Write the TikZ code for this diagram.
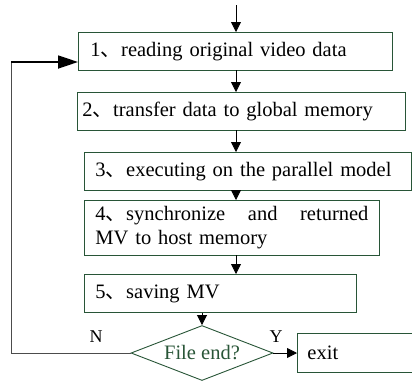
\documentclass[tikz,border=0pt]{standalone}
\usepackage{fontspec}
\setmainfont{Liberation Serif}
\newfontfamily\cjkfont{Noto Sans CJK SC}
\usetikzlibrary{arrows.meta,shapes.geometric}
\definecolor{boxgreen}{RGB}{40,85,55}
\newcommand{\dun}{{\cjkfont 、}}
\begin{document}
\begin{tikzpicture}[x=1pt,y=-1pt,
  stepbox/.style={draw=boxgreen,line width=0.9pt,anchor=north west,align=left,
    inner ysep=0pt,font=\fontsize{20.5}{24}\selectfont},
  flow/.style={-{Triangle[length=10pt,width=10pt]},line width=0.8pt},
  lbl/.style={font=\fontsize{18}{20}\selectfont,inner sep=0pt}]
\useasboundingbox (0,0) rectangle (412,381);
% process boxes
\node[stepbox,minimum width=314,minimum height=38,text width=290,inner xsep=12pt] (b1) at (78,32) {1\dun reading original video data};
\node[stepbox,minimum width=328,minimum height=38,text width=318,inner xsep=5pt] (b2) at (77,92) {2\dun transfer data to global memory};
\node[stepbox,minimum width=327,minimum height=38,text width=305,inner xsep=11pt] (b3) at (84,152) {3\dun executing on the parallel model};
\node[stepbox,minimum width=295,minimum height=55,text width=273,inner xsep=11pt] (b4) at (84,200)
  {4\dun synchronize\hfill and\hfill returned\\MV to host memory};
\node[stepbox,minimum width=272,minimum height=38,text width=250,inner xsep=11pt] (b5) at (84,274) {5\dun saving MV};
% decision
\node[diamond,draw=boxgreen,line width=0.9pt,text=boxgreen,shape aspect=2.58,
  minimum width=142,minimum height=55,inner sep=0pt,
  font=\fontsize{20.5}{24}\selectfont] (d) at (202,353) {File end?};
\node[stepbox,minimum width=116,minimum height=39,text width=96,inner xsep=10pt] (ex) at (297,333) {exit};
% entry and connectors
\coordinate (start) at (236,5);
\draw[flow] (start) -- (236,32);
\draw[flow] (236,70) -- (236,92);
\draw[flow] (236,130) -- (236,152);
\draw[flow] (236,190) -- (236,200);
\draw[flow] (236,255) -- (236,274);
\draw[flow] (b5.south -| d.north) -- (d.north);
\draw[flow] (d.east) -- (ex.west |- d.east);
% loop back
\coordinate (lb) at (11,353);
\coordinate (lt) at (11,62);
\draw[line width=0.8pt,black!70] (d.west) -- (lb) -- (lt);
\draw[-{Triangle[length=20pt,width=13pt]},line width=1.8pt] (lt) -- (b1.west |- lt);
\node[lbl] (n) at (96,337) {N};
\node[lbl] (y) at (276,337) {Y};
\end{tikzpicture}
\end{document}
